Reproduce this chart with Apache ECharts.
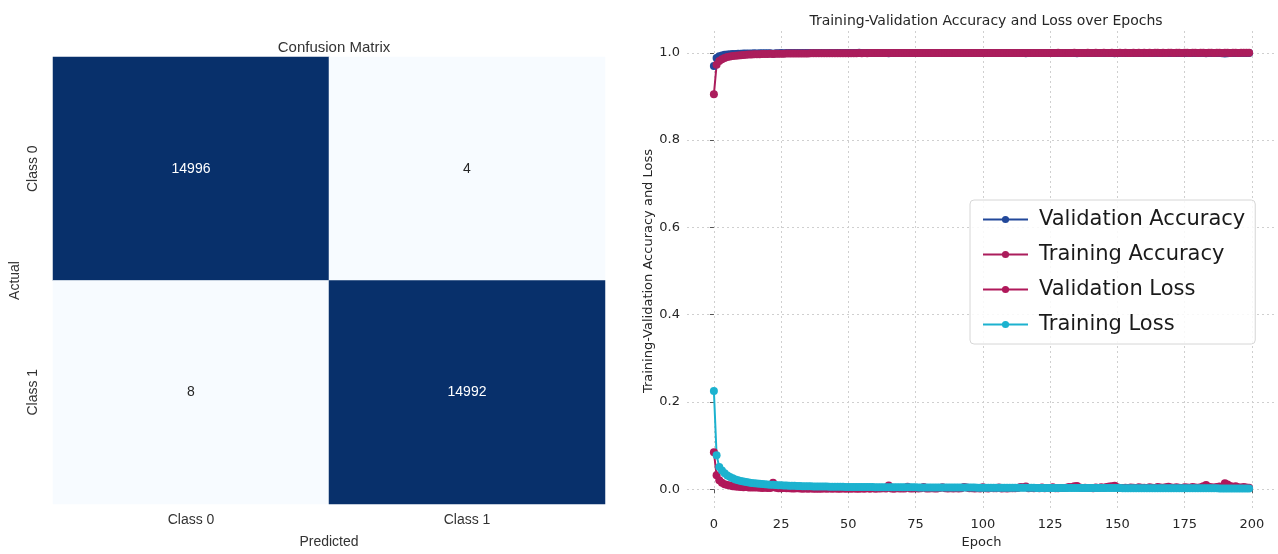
<!DOCTYPE html>
<html>
<head>
<meta charset="utf-8">
<script src="https://cdn.jsdelivr.net/npm/echarts@6/dist/echarts.min.js"></script>
<style>
  html, body { margin: 0; padding: 0; background: #fff; }
  #main { width: 1278px; height: 554px; }
</style>
</head>
<body>
<div id="main"></div>
<script>
// confusion matrix
const cmClasses = ['Class 0', 'Class 1'];
const cmRow0 = [14996, 4];
const cmRow1 = [8, 14992];

// training history, one value per epoch (0..199)
const valAcc = [
  0.9700,0.9880,0.9923,0.9941,0.9953,0.9962,0.9968,0.9971,0.9975,0.9979,
  0.9981,0.9983,0.9982,0.9986,0.9987,0.9988,0.9986,0.9990,0.9991,0.9989,
  0.9992,0.9991,0.9978,0.9992,0.9993,0.9994,0.9993,0.9995,0.9994,0.9995,
  0.9996,0.9995,0.9996,0.9997,0.9995,0.9996,0.9997,0.9996,0.9997,0.9998,
  0.9997,0.9996,0.9998,0.9997,0.9998,0.9997,0.9998,0.9997,0.9996,0.9998,
  0.9997,0.9998,0.9997,0.9998,0.9999,0.9997,0.9998,0.9997,0.9998,0.9996,
  0.9998,0.9997,0.9998,0.9997,0.9998,0.9989,0.9997,0.9998,0.9997,0.9998,
  0.9997,0.9998,0.9996,0.9998,0.9997,0.9998,0.9997,0.9998,0.9996,0.9998,
  0.9997,0.9998,0.9997,0.9998,0.9997,0.9996,0.9998,0.9997,0.9998,0.9997,
  0.9998,0.9997,0.9998,0.9996,0.9997,0.9998,0.9997,0.9998,0.9997,0.9998,
  0.9998,0.9997,0.9998,0.9997,0.9998,0.9997,0.9996,0.9998,0.9997,0.9998,
  0.9997,0.9998,0.9997,0.9998,0.9997,0.9996,0.9992,0.9997,0.9998,0.9997,
  0.9998,0.9997,0.9998,0.9997,0.9998,0.9997,0.9998,0.9996,0.9997,0.9998,
  0.9997,0.9998,0.9997,0.9996,0.9994,0.9993,0.9997,0.9998,0.9997,0.9998,
  0.9997,0.9998,0.9997,0.9998,0.9996,0.9997,0.9998,0.9997,0.9995,0.9991,
  0.9997,0.9998,0.9997,0.9998,0.9997,0.9996,0.9998,0.9997,0.9998,0.9997,
  0.9998,0.9997,0.9998,0.9996,0.9997,0.9998,0.9997,0.9998,0.9997,0.9996,
  0.9998,0.9997,0.9998,0.9997,0.9998,0.9997,0.9996,0.9998,0.9997,0.9998,
  0.9997,0.9998,0.9995,0.9990,0.9996,0.9997,0.9998,0.9997,0.9995,0.9993,
  0.9986,0.9989,0.9994,0.9997,0.9996,0.9998,0.9997,0.9998,0.9997,0.9998
];
const trainAcc = [
  0.9050,0.9725,0.9810,0.9855,0.9883,0.9902,0.9915,0.9926,0.9934,0.9941,
  0.9947,0.9951,0.9955,0.9959,0.9962,0.9965,0.9967,0.9969,0.9971,0.9973,
  0.9974,0.9976,0.9975,0.9978,0.9979,0.9980,0.9981,0.9982,0.9983,0.9983,
  0.9984,0.9985,0.9985,0.9986,0.9987,0.9986,0.9988,0.9988,0.9989,0.9989,
  0.9990,0.9989,0.9990,0.9991,0.9990,0.9991,0.9992,0.9991,0.9992,0.9992,
  0.9993,0.9992,0.9993,0.9993,0.9994,0.9993,0.9994,0.9993,0.9994,0.9994,
  0.9995,0.9994,0.9994,0.9995,0.9995,0.9994,0.9995,0.9995,0.9996,0.9995,
  0.9995,0.9996,0.9995,0.9996,0.9996,0.9995,0.9996,0.9996,0.9997,0.9996,
  0.9996,0.9997,0.9996,0.9996,0.9997,0.9996,0.9997,0.9997,0.9996,0.9997,
  0.9997,0.9996,0.9997,0.9997,0.9998,0.9997,0.9997,0.9996,0.9997,0.9998,
  0.9997,0.9997,0.9998,0.9997,0.9997,0.9998,0.9997,0.9998,0.9997,0.9997,
  0.9998,0.9997,0.9998,0.9998,0.9997,0.9998,0.9997,0.9998,0.9998,0.9997,
  0.9998,0.9998,0.9997,0.9998,0.9998,0.9997,0.9998,0.9998,0.9999,0.9998,
  0.9998,0.9997,0.9998,0.9998,0.9999,0.9998,0.9998,0.9997,0.9998,0.9999,
  0.9998,0.9998,0.9999,0.9998,0.9998,0.9999,0.9998,0.9998,0.9999,0.9998,
  0.9998,0.9999,0.9998,0.9999,0.9998,0.9998,0.9999,0.9998,0.9999,0.9998,
  0.9999,0.9998,0.9999,0.9998,0.9999,0.9999,0.9998,0.9999,0.9998,0.9999,
  0.9999,0.9998,0.9999,0.9999,0.9998,0.9999,0.9999,0.9998,0.9999,0.9999,
  0.9998,0.9999,0.9999,0.9998,0.9999,0.9999,0.9998,0.9999,0.9999,0.9998,
  0.9999,0.9999,0.9998,0.9999,0.9999,0.9998,0.9999,0.9999,0.9999,0.9999
];
const valLoss = [
  0.0850,0.0320,0.0205,0.0150,0.0118,0.0098,0.0085,0.0072,0.0064,0.0058,
  0.0052,0.0048,0.0051,0.0043,0.0040,0.0038,0.0042,0.0034,0.0031,0.0036,
  0.0028,0.0030,0.0150,0.0033,0.0026,0.0024,0.0029,0.0021,0.0023,0.0019,
  0.0017,0.0021,0.0015,0.0013,0.0018,0.0012,0.0016,0.0011,0.0014,0.0010,
  0.0013,0.0016,0.0011,0.0015,0.0012,0.0017,0.0010,0.0014,0.0019,0.0012,
  0.0015,0.0011,0.0018,0.0013,0.0010,0.0016,0.0012,0.0021,0.0014,0.0025,
  0.0013,0.0019,0.0015,0.0022,0.0016,0.0085,0.0018,0.0014,0.0024,0.0017,
  0.0020,0.0015,0.0058,0.0019,0.0016,0.0023,0.0018,0.0026,0.0052,0.0020,
  0.0017,0.0024,0.0019,0.0016,0.0028,0.0045,0.0021,0.0018,0.0025,0.0019,
  0.0023,0.0017,0.0022,0.0050,0.0038,0.0021,0.0026,0.0019,0.0024,0.0020,
  0.0048,0.0022,0.0019,0.0027,0.0021,0.0025,0.0042,0.0020,0.0023,0.0018,
  0.0026,0.0021,0.0024,0.0030,0.0055,0.0048,0.0062,0.0025,0.0029,0.0022,
  0.0027,0.0023,0.0041,0.0025,0.0030,0.0022,0.0045,0.0026,0.0024,0.0031,
  0.0028,0.0035,0.0052,0.0048,0.0068,0.0075,0.0040,0.0029,0.0033,0.0027,
  0.0031,0.0026,0.0038,0.0029,0.0046,0.0034,0.0052,0.0061,0.0070,0.0078,
  0.0045,0.0032,0.0028,0.0036,0.0030,0.0042,0.0034,0.0029,0.0048,0.0033,
  0.0037,0.0030,0.0044,0.0035,0.0031,0.0052,0.0038,0.0033,0.0046,0.0058,
  0.0040,0.0034,0.0049,0.0037,0.0032,0.0045,0.0039,0.0035,0.0050,0.0041,
  0.0036,0.0048,0.0072,0.0098,0.0060,0.0044,0.0038,0.0052,0.0066,0.0048,
  0.0140,0.0112,0.0075,0.0058,0.0069,0.0046,0.0040,0.0055,0.0038,0.0035
];
const trainLoss = [
  0.2250,0.0780,0.0510,0.0430,0.0368,0.0318,0.0280,0.0250,0.0226,0.0206,
  0.0190,0.0176,0.0165,0.0155,0.0146,0.0138,0.0131,0.0125,0.0119,0.0114,
  0.0109,0.0105,0.0101,0.0097,0.0093,0.0090,0.0087,0.0084,0.0082,0.0080,
  0.0078,0.0076,0.0074,0.0072,0.0071,0.0069,0.0068,0.0066,0.0065,0.0064,
  0.0063,0.0062,0.0061,0.0060,0.0059,0.0058,0.0058,0.0057,0.0056,0.0055,
  0.0055,0.0054,0.0054,0.0053,0.0052,0.0052,0.0051,0.0051,0.0050,0.0050,
  0.0049,0.0049,0.0048,0.0048,0.0048,0.0047,0.0047,0.0046,0.0046,0.0046,
  0.0045,0.0045,0.0045,0.0044,0.0044,0.0044,0.0043,0.0043,0.0043,0.0042,
  0.0042,0.0042,0.0042,0.0041,0.0041,0.0041,0.0040,0.0040,0.0040,0.0040,
  0.0039,0.0039,0.0039,0.0039,0.0038,0.0038,0.0038,0.0038,0.0037,0.0037,
  0.0037,0.0037,0.0036,0.0036,0.0036,0.0036,0.0035,0.0035,0.0035,0.0035,
  0.0035,0.0034,0.0034,0.0034,0.0034,0.0033,0.0033,0.0033,0.0033,0.0033,
  0.0032,0.0032,0.0032,0.0032,0.0032,0.0031,0.0031,0.0031,0.0031,0.0031,
  0.0030,0.0030,0.0030,0.0030,0.0030,0.0029,0.0029,0.0029,0.0029,0.0029,
  0.0029,0.0028,0.0028,0.0028,0.0028,0.0028,0.0027,0.0027,0.0027,0.0027,
  0.0027,0.0027,0.0026,0.0026,0.0026,0.0026,0.0026,0.0025,0.0025,0.0025,
  0.0025,0.0025,0.0025,0.0024,0.0024,0.0024,0.0024,0.0024,0.0024,0.0023,
  0.0023,0.0023,0.0023,0.0023,0.0023,0.0022,0.0022,0.0022,0.0022,0.0022,
  0.0022,0.0022,0.0021,0.0021,0.0021,0.0021,0.0021,0.0021,0.0020,0.0020,
  0.0020,0.0020,0.0020,0.0020,0.0019,0.0019,0.0019,0.0019,0.0019,0.0019
];

const epochTicks = [0, 25, 50, 75, 100, 125, 150, 175, 200];
const yTicks = [0, 0.2, 0.4, 0.6, 0.8, 1.0];

const seriesNames = ['Validation Accuracy', 'Training Accuracy', 'Validation Loss', 'Training Loss'];
const seriesColors = ['#22489a', '#ab1d5c', '#b0185a', '#1cb2cf'];

var chart = echarts.init(document.getElementById('main'));

// heatmap cells: [col, row, value]
var cmData = [];
[cmRow0, cmRow1].forEach((row, r) => {
	row.forEach((v, c) => {
		cmData.push({
			value: [c, r, v],
			label: { color: v > 7500 ? '#ffffff' : '#262626' }
		});
	});
});

const history = [valAcc, trainAcc, valLoss, trainLoss];
const lineSeries = history.map((arr, k) => ({
	name: seriesNames[k],
	type: 'line',
	xAxisIndex: 1,
	yAxisIndex: 1,
	symbol: 'circle',
	symbolSize: 8,
	color: seriesColors[k],
	lineStyle: { width: 2 },
	data: arr.map((v, i) => [i, v])
}));

const sans = '"Liberation Sans", Arial, sans-serif';
const deja = '"DejaVu Sans", sans-serif';

var option = {
	animation: false,
	title: [
		{
			text: 'Confusion Matrix',
			left: 329, top: 35, textAlign: 'center',
			textStyle: { fontFamily: sans, fontSize: 15, fontWeight: 'normal', color: '#333' }
		},
		{
			text: 'Training-Validation Accuracy and Loss over Epochs',
			left: 981, top: 9, textAlign: 'center',
			textStyle: { fontFamily: deja, fontSize: 14, fontWeight: 'normal', color: '#262626' }
		}
	],
	legend: {
		data: seriesNames,
		orient: 'vertical',
		left: 970, top: 200,
		padding: [9, 10, 9, 12],
		itemWidth: 45,
		itemHeight: 9,
		itemGap: 14,
		backgroundColor: 'rgba(255,255,255,0.85)',
		borderColor: '#d6d6d6',
		borderWidth: 1,
		borderRadius: 4,
		textStyle: { fontFamily: deja, fontSize: 21, color: '#1a1a1a', padding: [0, 0, 0, 6] }
	},
	visualMap: {
		show: false,
		seriesIndex: 0,
		min: 0,
		max: 14996,
		inRange: { color: ['#f7fbff', '#08306b'] }
	},
	grid: [
		{ left: 53, top: 57, width: 552, height: 450 },
		{ left: 687, right: 2, top: 31, bottom: 37 }
	],
	xAxis: [
		{
			gridIndex: 0, type: 'category', data: cmClasses,
			axisLine: { show: false }, axisTick: { show: false }, splitLine: { show: false },
			axisLabel: { fontFamily: sans, fontSize: 14, color: '#333', margin: 9 },
			name: 'Predicted', nameLocation: 'middle', nameGap: 31,
			nameTextStyle: { fontFamily: sans, fontSize: 14, color: '#333' }
		},
		{
			gridIndex: 1, type: 'value', min: -10, max: 209,
			axisLine: { show: false },
			axisTick: { show: true, length: 4, lineStyle: { color: '#555' }, customValues: epochTicks },
			axisLabel: { fontFamily: deja, fontSize: 13, color: '#262626', margin: 7, customValues: epochTicks },
			splitLine: { show: true, lineStyle: { color: '#cfcfcf', type: [2, 3], width: 1 } },
			name: 'Epoch', nameLocation: 'middle', nameGap: 24,
			nameTextStyle: { fontFamily: deja, fontSize: 13, color: '#262626' }
		}
	],
	yAxis: [
		{
			gridIndex: 0, type: 'category', data: cmClasses, inverse: true,
			axisLine: { show: false }, axisTick: { show: false }, splitLine: { show: false },
			axisLabel: { fontFamily: sans, fontSize: 14, color: '#333', rotate: 90, margin: 13 },
			name: 'Actual', nameLocation: 'middle', nameGap: 31, nameRotate: 90,
			nameTextStyle: { fontFamily: sans, fontSize: 14, color: '#333' }
		},
		{
			gridIndex: 1, type: 'value', min: -0.05, max: 1.05,
			axisLine: { show: false },
			axisTick: { show: true, length: 4, lineStyle: { color: '#555' }, customValues: yTicks },
			axisLabel: {
				fontFamily: deja, fontSize: 13, color: '#262626', margin: 7, customValues: yTicks,
				formatter: (v) => v.toFixed(1)
			},
			splitLine: { show: true, lineStyle: { color: '#cfcfcf', type: [2, 3], width: 1 } },
			name: 'Training-Validation Accuracy and Loss', nameLocation: 'middle', nameGap: 30,
			nameTextStyle: { fontFamily: deja, fontSize: 13, color: '#262626' }
		}
	],
	series: [
		{
			type: 'heatmap',
			xAxisIndex: 0,
			yAxisIndex: 0,
			data: cmData,
			label: {
				show: true,
				fontFamily: sans,
				fontSize: 14,
				formatter: (p) => p.value[2]
			},
			emphasis: { disabled: true }
		}
	].concat(lineSeries)
};

chart.setOption(option);
</script>
</body>
</html>
